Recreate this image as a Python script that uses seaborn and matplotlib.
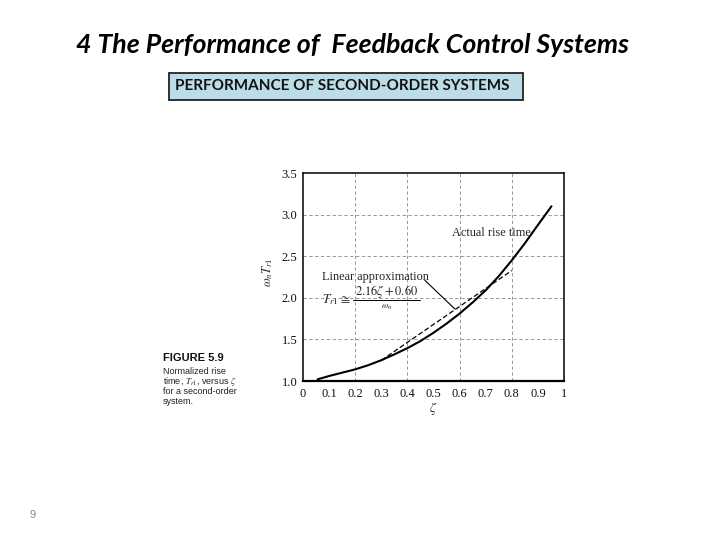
import matplotlib
matplotlib.use("Agg")
import matplotlib.pyplot as plt
import seaborn as sns
import pandas as pd
from matplotlib.patches import Rectangle

# ---- data ----
zeta_actual = [0.056, 0.1, 0.15, 0.2, 0.25, 0.3, 0.35, 0.4, 0.45, 0.5, 0.55,
               0.6, 0.65, 0.7, 0.75, 0.8, 0.85, 0.9, 0.952]
tr_actual = [1.02, 1.06, 1.10, 1.14, 1.19, 1.25, 1.32, 1.395, 1.48, 1.58, 1.69,
             1.81, 1.945, 2.09, 2.26, 2.45, 2.655, 2.875, 3.10]
zeta_linear = [0.3, 0.8]
tr_linear = [1.248, 2.328]
xticks = [0, 0.1, 0.2, 0.3, 0.4, 0.5, 0.6, 0.7, 0.8, 0.9, 1.0]
xticklabels = ["0", "0.1", "0.2", "0.3", "0.4", "0.5", "0.6", "0.7", "0.8", "0.9", "1"]
yticks = [1.0, 1.5, 2.0, 2.5, 3.0, 3.5]
yticklabels = ["1.0", "1.5", "2.0", "2.5", "3.0", "3.5"]
gridx = [0.2, 0.4, 0.6, 0.8]
gridy = [1.5, 2.0, 2.5, 3.0]

sns.set_style("white")
plt.rcParams["font.family"] = ["Liberation Serif", "DejaVu Serif"]
plt.rcParams["mathtext.fontset"] = "stix"

fig = plt.figure(figsize=(7.2, 5.4), dpi=100)
fig.patch.set_facecolor("white")

# slide title
fig.text(353/720, 0.917, "4 The Performance of  Feedback Control Systems",
         ha="center", va="center", fontsize=19.3, fontweight="bold",
         fontstyle="italic", family=["Lato", "DejaVu Sans"], color="black")

# boxed subtitle
fig.patches.append(Rectangle((169/720, 1-100/540), (523-169)/720, 27/540,
                             transform=fig.transFigure, facecolor="#bcdde8",
                             edgecolor="#222222", linewidth=1.3))
fig.text(342/720, 1-86.5/540, "PERFORMANCE OF SECOND-ORDER SYSTEMS",
         ha="center", va="center", fontsize=11, fontweight="bold",
         family=["Lato", "DejaVu Sans"], color="#111111")

# caption
fig.text(163/720, 1-358/540, "FIGURE 5.9", ha="left", va="center",
         fontsize=8, fontweight="bold", family=["Liberation Sans"], color="#111111")
cap_lines = ["Normalized rise", r"time, $T_{r1}$, versus $\zeta$",
             "for a second-order", "system."]
for i, s in enumerate(cap_lines):
    fig.text(163/720, 1-(372 + 10*i)/540, s, ha="left", va="center",
             fontsize=6.5, family=["Liberation Sans"], color="#222222")

# page number
fig.text(33/720, 1-515/540, "9", ha="center", va="center", fontsize=8,
         family=["Liberation Sans"], color="#888888")

ax = fig.add_axes([303/720, 1-381/540, 261/720, 208/540])
df_a = pd.DataFrame({"zeta": zeta_actual, "tr": tr_actual})
df_l = pd.DataFrame({"zeta": zeta_linear, "tr": tr_linear})
sns.lineplot(data=df_a, x="zeta", y="tr", ax=ax, color="black", linewidth=1.5, zorder=3)
sns.lineplot(data=df_l, x="zeta", y="tr", ax=ax, color="black", linewidth=0.9,
             linestyle=(0, (4, 2)), zorder=3)

for gx in gridx:
    ax.axvline(gx, color="#888888", lw=0.6, ls=(0, (4, 3)), zorder=1)
for gy in gridy:
    ax.axhline(gy, color="#888888", lw=0.6, ls=(0, (4, 3)), zorder=1)

ax.set_xlim(0, 1)
ax.set_ylim(1.0, 3.5)
ax.set_xticks(xticks)
ax.set_xticklabels(xticklabels)
ax.set_yticks(yticks)
ax.set_yticklabels(yticklabels)
ax.tick_params(axis="both", length=0, labelsize=9, colors="#111111")
ax.tick_params(axis="x", pad=5)
ax.tick_params(axis="y", pad=4)
for s in ["left", "bottom", "right", "top"]:
    ax.spines[s].set_color("black")
    ax.spines[s].set_linewidth(1.1)
ax.spines["bottom"].set_linewidth(1.6)
ax.set_xlabel("")
ax.set_ylabel("")
ax.text(-0.134, 0.524, r"$\omega_n T_{r1}$", transform=ax.transAxes, rotation=90,
        ha="center", va="center", fontsize=9)
ax.text(0.498, -0.13, r"$\zeta$", transform=ax.transAxes, ha="center", va="center",
        fontsize=9.5)

# annotations
ax.text(0.571, 2.78, "Actual rise time", ha="left", va="center", fontsize=8.8)
ax.text(0.073, 2.25, "Linear approximation", ha="left", va="center", fontsize=8.8)
ax.text(0.073, 1.98, r"$T_{r1} \cong$", ha="left", va="center", fontsize=9.5)
ax.text(0.32, 2.07, r"$2.16\zeta + 0.60$", ha="center", va="center", fontsize=9)
ax.plot([0.19, 0.45], [1.975, 1.975], color="black", lw=0.7)
ax.text(0.322, 1.88, r"$\omega_n$", ha="center", va="center", fontsize=6.5)
ax.plot([0.467, 0.582], [2.21, 1.865], color="black", lw=0.8)

fig.savefig("out.png", dpi=100)
